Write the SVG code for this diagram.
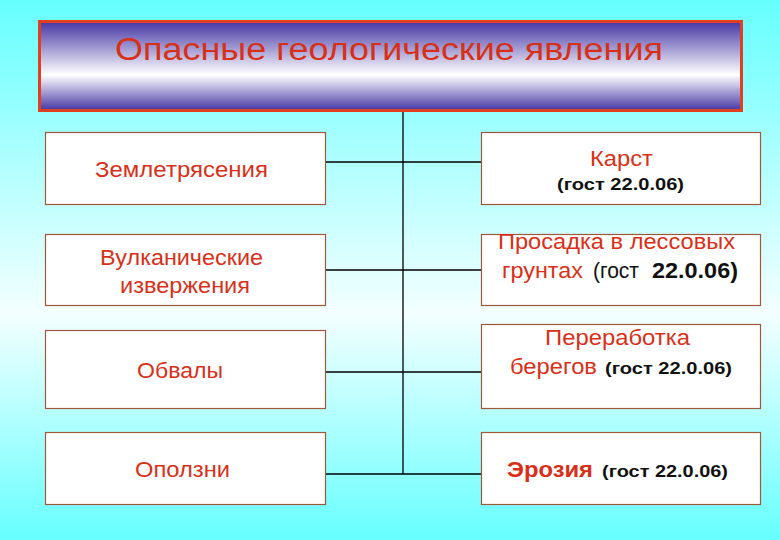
<svg xmlns="http://www.w3.org/2000/svg" width="780" height="540" viewBox="0 0 780 540">
<defs>
<linearGradient id="bg" x1="0" y1="0" x2="0" y2="1">
<stop offset="0" stop-color="#66ffff"/>
<stop offset="0.58" stop-color="#f4ffff"/>
<stop offset="1" stop-color="#66ffff"/>
</linearGradient>
<linearGradient id="tg" x1="0" y1="0" x2="0" y2="1">
<stop offset="0" stop-color="#4436a4"/>
<stop offset="0.6" stop-color="#ffffff"/>
<stop offset="1" stop-color="#4436a4"/>
</linearGradient>
<style>
.box{fill:#ffffff;stroke:#a0583a;stroke-width:1.2}
.t{font-family:"Liberation Sans",Arial,sans-serif;font-size:22px;fill:#d83018}
.k{font-family:"Liberation Sans",Arial,sans-serif;font-size:22px;fill:#111}
.g{font-family:"Liberation Sans",Arial,sans-serif;font-weight:bold;fill:#111;font-size:17px}
.c{stroke:#000;stroke-width:1.3;fill:none}
</style>
</defs>
<rect x="0" y="0" width="780" height="540" fill="url(#bg)"/>
<g id="connectors">
<path class="c" d="M403 111V474M325 162H481M325 270H481M325 372H481M325 474H481"/>
</g>
<g id="title">
<rect x="39.5" y="21.5" width="702" height="89" fill="url(#tg)" stroke="#e04020" stroke-width="3"/>
<text class="t" x="115" y="60" style="font-size:31px" textLength="548" lengthAdjust="spacingAndGlyphs">Опасные геологические явления</text>
</g>
<g id="n-zemletr">
<rect class="box" x="45.5" y="132.5" width="280" height="72"/>
<text class="t" x="95" y="177" textLength="173" lengthAdjust="spacingAndGlyphs">Землетрясения</text>
</g>
<g id="n-vulkan">
<rect class="box" x="45.5" y="234.5" width="280" height="71"/>
<text class="t" x="100" y="265" textLength="163" lengthAdjust="spacingAndGlyphs">Вулканические</text>
<text class="t" x="120" y="293" textLength="130" lengthAdjust="spacingAndGlyphs">извержения</text>
</g>
<g id="n-obvaly">
<rect class="box" x="45.5" y="330.5" width="280" height="78"/>
<text class="t" x="137" y="378" textLength="86" lengthAdjust="spacingAndGlyphs">Обвалы</text>
</g>
<g id="n-opolzni">
<rect class="box" x="45.5" y="432.5" width="280" height="72"/>
<text class="t" x="135" y="477" textLength="95" lengthAdjust="spacingAndGlyphs">Оползни</text>
</g>
<g id="n-karst">
<rect class="box" x="481.5" y="132.5" width="279" height="72"/>
<text class="t" x="590" y="166" textLength="63" lengthAdjust="spacingAndGlyphs">Карст</text>
<text class="g" x="557" y="190" textLength="127" lengthAdjust="spacingAndGlyphs">(гост 22.0.06)</text>
</g>
<g id="n-prosadka">
<rect class="box" x="481.5" y="234.5" width="279" height="71"/>
<text class="t" x="498" y="249" textLength="237" lengthAdjust="spacingAndGlyphs">Просадка в лессовых</text>
<text class="t" x="502" y="278" textLength="81" lengthAdjust="spacingAndGlyphs">грунтах</text>
<text class="k" x="593" y="278" textLength="46" lengthAdjust="spacingAndGlyphs">(гост</text>
<text class="k" x="652" y="278" font-weight="bold" textLength="86" lengthAdjust="spacingAndGlyphs">22.0.06)</text>
</g>
<g id="n-pererab">
<rect class="box" x="481.5" y="324.5" width="279" height="84"/>
<text class="t" x="545" y="345" textLength="145" lengthAdjust="spacingAndGlyphs">Переработка</text>
<text class="t" x="510" y="374" textLength="87" lengthAdjust="spacingAndGlyphs">берегов</text>
<text class="g" x="605" y="374" textLength="127" lengthAdjust="spacingAndGlyphs">(гост 22.0.06)</text>
</g>
<g id="n-eroziya">
<rect class="box" x="481.5" y="432.5" width="279" height="72"/>
<text class="t" x="507" y="477" font-weight="bold" textLength="86" lengthAdjust="spacingAndGlyphs">Эрозия</text>
<text class="g" x="602" y="477" textLength="126" lengthAdjust="spacingAndGlyphs">(гост 22.0.06)</text>
</g>
</svg>
